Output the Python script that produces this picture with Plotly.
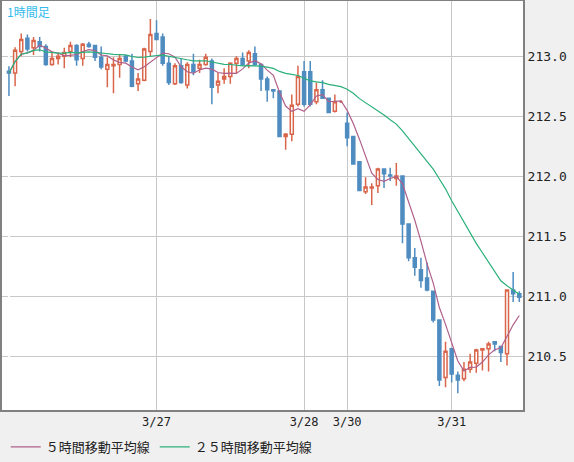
import pandas as pd
import plotly.graph_objects as go

# hourly candles, 3/26 00:00 onward (index = hour slot)
opens = [212.875, 212.86, 213.04, 213.15, 213.07, 213.12, 213.08, 212.93, 212.98, 213.00,
         213.04, 213.09, 212.98, 213.10, 213.09, 212.99, 212.89, 212.92, 212.93, 213.00,
         212.96, 212.77, 212.80, 213.04, 213.19, 213.16, 212.94, 212.77, 212.92, 212.76,
         212.93, 212.90, 212.93, 212.96, 212.76, 212.81, 212.83, 212.94, 212.98, 212.96,
         213.02, 212.93, 212.81, 212.72, 212.71, 212.33, 212.35, 212.60, 212.87, 212.87,
         212.62, 212.72, 212.65, 212.54, 212.62, 212.44, 212.33, 212.12, 211.87, 211.90,
         211.92, 212.06, 212.01, 211.98, 212.00, 211.60, 211.32, 211.22, 211.15, 211.04,
         210.80, 210.32, 210.56, 210.34, 210.31, 210.39, 210.44, 210.55, 210.56, 210.62,
         210.58, 210.52, 211.05, 211.02]
highs = [212.917, 213.075, 213.19, 213.18, 213.16, 213.16, 213.10, 213.04, 213.03, 213.07,
         213.12, 213.10, 213.11, 213.12, 213.09, 213.08, 212.99, 212.99, 213.01, 213.01,
         213.02, 212.86, 213.07, 213.31, 213.30, 213.19, 213.00, 212.94, 212.98, 212.95,
         213.02, 212.97, 213.02, 212.98, 212.86, 212.90, 212.95, 213.00, 213.03, 213.05,
         213.08, 212.93, 212.83, 212.72, 212.71, 212.36, 212.68, 212.92, 212.96, 212.96,
         212.78, 212.80, 212.65, 212.68, 212.63, 212.53, 212.33, 212.12, 211.99, 211.94,
         212.07, 212.06, 212.07, 212.11, 212.00, 211.60, 211.40, 211.32, 211.28, 211.04,
         210.80, 210.62, 210.57, 210.37, 210.45, 210.52, 210.56, 210.56, 210.62, 210.62,
         210.58, 211.05, 211.20, 211.04]
lows = [212.667, 212.75, 213.00, 213.04, 213.01, 213.04, 212.92, 212.92, 212.93, 212.90,
        212.99, 212.92, 212.92, 213.07, 212.96, 212.89, 212.74, 212.69, 212.82, 212.95,
        212.74, 212.71, 212.79, 213.00, 213.14, 212.92, 212.76, 212.76, 212.77, 212.73,
        212.84, 212.86, 212.92, 212.60, 212.69, 212.77, 212.77, 212.86, 212.92, 212.90,
        212.92, 212.71, 212.62, 212.65, 212.33, 212.22, 212.29, 212.58, 212.58, 212.58,
        212.60, 212.65, 212.53, 212.53, 212.61, 212.25, 212.10, 211.88, 211.85, 211.76,
        211.86, 211.90, 211.96, 211.92, 211.44, 211.29, 211.17, 211.07, 211.04, 210.78,
        210.25, 210.24, 210.28, 210.19, 210.29, 210.36, 210.36, 210.38, 210.37, 210.54,
        210.45, 210.42, 210.95, 210.95]
closes = [212.86, 213.05, 213.14, 213.06, 213.13, 213.08, 212.93, 212.98, 213.00, 213.03,
          213.09, 212.97, 213.10, 213.08, 212.99, 212.91, 212.93, 212.93, 212.98, 212.96,
          212.75, 212.81, 213.06, 213.18, 213.14, 212.94, 212.78, 212.92, 212.78, 212.93,
          212.87, 212.93, 212.99, 212.74, 212.79, 212.83, 212.94, 212.98, 212.93, 213.03,
          212.93, 212.81, 212.72, 212.71, 212.33, 212.35, 212.59, 212.83, 212.60, 212.60,
          212.72, 212.65, 212.53, 212.62, 212.62, 212.32, 212.10, 211.88, 211.91, 211.91,
          212.06, 212.02, 212.00, 212.00, 211.60, 211.32, 211.24, 211.13, 211.05, 210.80,
          210.30, 210.54, 210.35, 210.30, 210.39, 210.45, 210.55, 210.56, 210.60, 210.60,
          210.53, 211.05, 211.02, 210.99]
tick_idx = [0, 24, 48, 55, 72]
tick_text = ["", "3/27", "3/28", "3/30", "3/31"]
price_ticks = [210.5, 211.0, 211.5, 212.0, 212.5, 213.0]
price_text = ["210.5", "211.0", "211.5", "212.0", "212.5", "213.0"]

idx = list(range(len(closes)))
s = pd.Series(closes)
ma5 = s.rolling(5, min_periods=1).mean()
ma25 = s.rolling(25, min_periods=1).mean()

fig = go.Figure()
fig.add_trace(go.Candlestick(
    x=idx, open=opens, high=highs, low=lows, close=closes,
    increasing=dict(line=dict(color="#d9664a", width=1.5), fillcolor="white"),
    decreasing=dict(line=dict(color="#4f8cc0", width=1.5), fillcolor="#4f8cc0"),
    whiskerwidth=0, showlegend=False, hoverinfo="skip"))
fig.add_trace(go.Scatter(x=idx, y=ma5, mode="lines", name="５時間移動平均線",
                         line=dict(color="#b0608a", width=1.2)))
fig.add_trace(go.Scatter(x=idx, y=ma25, mode="lines", name="２５時間移動平均線",
                         line=dict(color="#2ab07a", width=1.2)))

fig.update_layout(
    width=574, height=462,
    margin=dict(l=2, r=51, t=1, b=52, autoexpand=False),
    paper_bgcolor="#f0f0f0", plot_bgcolor="white",
    font=dict(family="DejaVu Sans Mono", size=13, color="#222"),
    legend=dict(orientation="h", x=0.01, y=17, xref="container", yref="container",
                xanchor="left", yanchor="middle",
                font=dict(family="Noto Sans CJK JP", size=13), bgcolor="rgba(0,0,0,0)"),
    annotations=[dict(text="1時間足", x=0.005, y=1.0, xref="paper", yref="paper",
                      xanchor="left", yanchor="top", showarrow=False,
                      font=dict(family="Noto Sans CJK JP", size=12, color="#33bbee"))],
)
fig.update_xaxes(range=[-1.13, 83.6], tickvals=tick_idx, ticktext=tick_text,
                 showgrid=True, gridcolor="#c8c8c8", rangeslider_visible=False,
                 showline=True, linecolor="#808080", linewidth=2, mirror=True,
                 ticks="", tickfont=dict(size=12), automargin=False)
fig.update_yaxes(range=[210.05, 213.46], tickvals=price_ticks, ticktext=price_text,
                 side="right", showgrid=True, gridcolor="#c8c8c8", automargin=False,
                 showline=True, linecolor="#808080", linewidth=2, mirror=True, ticks="")

fig.write_html("out.html", config={"displayModeBar": False},
               post_script="document.body.style.margin='0';document.body.style.overflow='hidden';")
